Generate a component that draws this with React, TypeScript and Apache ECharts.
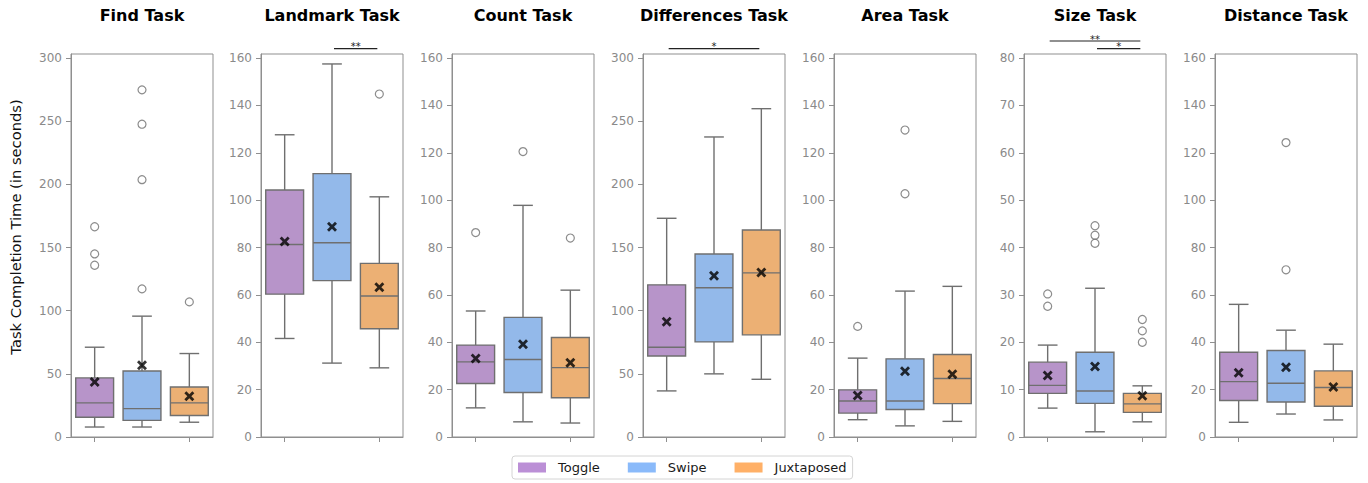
import React, { useEffect, useRef } from 'react';
import * as echarts from 'echarts';

// ---------- data ----------
const tasks = ['Find Task', 'Landmark Task', 'Count Task', 'Differences Task', 'Area Task', 'Size Task', 'Distance Task'];
const conditions = ['Toggle', 'Swipe', 'Juxtaposed'];

// box stats per condition: [lower whisker, Q1, median, Q3, upper whisker]
const findBoxes = [[7.9, 15.6, 27, 46.8, 71.1], [7.9, 13.2, 22.5, 52.3, 95.7], [11.7, 17, 27, 39.6, 66.1]];
const findMeans = [43.6, 56.8, 32.3];
const findOutliers = [[166.5, 145, 136], [117.3, 203.8, 247.7, 274.9], [107]];

const landmarkBoxes = [[41.6, 60.3, 81.3, 104.3, 127.6], [31.2, 66, 82, 111.2, 157.5], [29.2, 45.7, 59.5, 73.3, 101.4]];
const landmarkMeans = [82.5, 88.8, 63.2];
const landmarkOutliers = [[], [], [144.8]];

const countBoxes = [[12.3, 22.6, 31.7, 38.8, 53.2], [6.4, 18.8, 32.7, 50.5, 97.8], [5.9, 16.6, 29.3, 42, 62]];
const countMeans = [33.1, 39.2, 31.3];
const countOutliers = [[86.3], [120.5], [84]];

const differencesBoxes = [[36.5, 64.2, 71.1, 120.5, 173.2], [50, 75.3, 118.2, 144.9, 237.6], [45.7, 80.9, 130, 163.9, 260]];
const differencesMeans = [91.2, 127.7, 130.3];
const differencesOutliers = [[], [], []];

const areaBoxes = [[7.3, 10.1, 15.2, 19.9, 33.3], [4.7, 11.6, 15.2, 33, 61.6], [6.6, 14.1, 24.7, 34.8, 63.6]];
const areaMeans = [17.5, 27.8, 26.5];
const areaOutliers = [[46.7], [129.6, 102.7], []];

const sizeBoxes = [[6.1, 9.2, 10.9, 15.8, 19.4], [1.1, 7.1, 9.7, 17.9, 31.4], [3.2, 5.2, 7.0, 9.2, 10.8]];
const sizeMeans = [13.0, 14.9, 8.7];
const sizeOutliers = [[30.2, 27.6], [40.9, 42.6, 44.6], [24.8, 22.4, 20.0]];

const distanceBoxes = [[6.2, 15.4, 23.4, 35.8, 56], [9.7, 14.8, 22.7, 36.5, 45.1], [7.2, 13, 20.9, 27.9, 39.2]];
const distanceMeans = [27.1, 29.5, 21.1];
const distanceOutliers = [[], [70.6, 124.3], []];

const allBoxes = [findBoxes, landmarkBoxes, countBoxes, differencesBoxes, areaBoxes, sizeBoxes, distanceBoxes];
const allMeans = [findMeans, landmarkMeans, countMeans, differencesMeans, areaMeans, sizeMeans, distanceMeans];
const allOutliers = [findOutliers, landmarkOutliers, countOutliers, differencesOutliers, areaOutliers, sizeOutliers, distanceOutliers];

// y axes
const yMax = [303.3, 161.7, 161.7, 303.3, 161.7, 80.85, 161.7];
const yStep = [50, 20, 20, 50, 20, 10, 20];
const ticks300 = [0, 50, 100, 150, 200, 250, 300];
const ticks160 = [0, 20, 40, 60, 80, 100, 120, 140, 160];
const ticks80 = [0, 10, 20, 30, 40, 50, 60, 70, 80];
const yTicks = [ticks300, ticks160, ticks160, ticks300, ticks160, ticks80, ticks160];

// significance annotations: panel, from condition, to condition, label, stacking level
const sigPanel = [1, 3, 5, 5];
const sigFrom = [1, 0, 0, 1];
const sigTo = [2, 2, 2, 2];
const sigLabel = ['**', '*', '**', '*'];
const sigLevel = [0, 0, 1, 0];

const yLabel = 'Task Completion Time (in seconds)';

// ---------- styles ----------
const FONT = 'DejaVu Sans';
const boxColors = ['#b794c9', '#93b9ea', '#ecb074'];
const legendColors = ['#bb8fd6', '#8abafa', '#ffb067'];
const EDGE = '#6f6f6f';
const AX = '#8f8f8f';
const panelLeft = [71, 261, 452, 643, 834, 1024, 1215];
const PANEL_W = 142;
const TOP = 54;
const PANEL_H = 383;

const xMark = 'path://M0,2 L2,0 L5,3 L8,0 L10,2 L7,5 L10,8 L8,10 L5,7 L2,10 L0,8 L3,5 Z';

export default function App() {
  const ref = useRef<HTMLDivElement>(null);

  useEffect(() => {
    if (!ref.current) return;
    const chart = echarts.init(ref.current, null, { renderer: 'svg' });

    const renderBox = (params: any, api: any) => {
      const ci = api.value(0);
      const pLo = api.coord([ci, api.value(1)]);
      const pQ1 = api.coord([ci, api.value(2)]);
      const pMd = api.coord([ci, api.value(3)]);
      const pQ3 = api.coord([ci, api.value(4)]);
      const pHi = api.coord([ci, api.value(5)]);
      const band = api.size([1, 0])[0];
      const bw = band * 0.8;
      const cw = bw * 0.52;
      const cx = pLo[0];
      const st = { stroke: EDGE, lineWidth: 1.4, fill: null };
      return {
        type: 'group',
        children: [
          { type: 'line', shape: { x1: cx, y1: pHi[1], x2: cx, y2: pQ3[1] }, style: st },
          { type: 'line', shape: { x1: cx, y1: pQ1[1], x2: cx, y2: pLo[1] }, style: st },
          { type: 'line', shape: { x1: cx - cw / 2, y1: pHi[1], x2: cx + cw / 2, y2: pHi[1] }, style: st },
          { type: 'line', shape: { x1: cx - cw / 2, y1: pLo[1], x2: cx + cw / 2, y2: pLo[1] }, style: st },
          {
            type: 'rect',
            shape: { x: cx - bw / 2, y: pQ3[1], width: bw, height: pQ1[1] - pQ3[1] },
            style: { fill: boxColors[ci], stroke: EDGE, lineWidth: 1.4 },
          },
          { type: 'line', shape: { x1: cx - bw / 2, y1: pMd[1], x2: cx + bw / 2, y2: pMd[1] }, style: st },
        ],
      };
    };

    const grids = tasks.map((_, i) => ({
      left: panelLeft[i],
      top: TOP,
      width: PANEL_W,
      height: PANEL_H,
      show: true,
      borderColor: AX,
      borderWidth: 1,
      backgroundColor: 'transparent',
    }));

    const xAxes = tasks.map((_, i) => ({
      type: 'category',
      gridIndex: i,
      data: conditions,
      axisLine: { show: true, lineStyle: { color: AX, width: 1 } },
      axisTick: { show: true, alignWithLabel: true, length: 5, lineStyle: { color: AX } },
      axisLabel: { show: false },
      splitLine: { show: false },
    }));

    const yAxes = tasks.map((_, i) => ({
      type: 'value',
      gridIndex: i,
      min: 0,
      max: yMax[i],
      interval: yStep[i],
      axisLine: { show: true, lineStyle: { color: AX, width: 1 } },
      axisTick: { show: true, length: 5, lineStyle: { color: AX }, customValues: yTicks[i] },
      axisLabel: { color: '#8a8a8a', fontSize: 12, fontFamily: FONT, margin: 9, customValues: yTicks[i] },
      splitLine: { show: false },
    }));

    const series: any[] = [];
    tasks.forEach((_, i) => {
      series.push({
        type: 'custom',
        xAxisIndex: i,
        yAxisIndex: i,
        renderItem: renderBox,
        encode: { x: 0, y: [1, 2, 3, 4, 5] },
        data: allBoxes[i].map((b, ci) => [ci, ...b]),
        z: 2,
      });
      const outl: number[][] = [];
      allOutliers[i].forEach((arr, ci) => arr.forEach((v) => outl.push([ci, v])));
      series.push({
        type: 'scatter',
        xAxisIndex: i,
        yAxisIndex: i,
        symbol: 'circle',
        symbolSize: 8,
        itemStyle: { color: 'rgba(255,255,255,0)', borderColor: EDGE, borderWidth: 1.2 },
        data: outl,
        z: 3,
      });
      series.push({
        type: 'scatter',
        xAxisIndex: i,
        yAxisIndex: i,
        symbol: xMark,
        symbolSize: 10,
        itemStyle: { color: '#000' },
        data: allMeans[i].map((m, ci) => [ci, m]),
        z: 4,
      });
    });
    conditions.forEach((c, ci) => {
      series.push({ type: 'bar', name: c, xAxisIndex: 0, yAxisIndex: 0, data: [], itemStyle: { color: legendColors[ci] } });
    });

    chart.setOption({
      animation: false,
      grid: grids,
      xAxis: xAxes,
      yAxis: yAxes,
      series,
      legend: {
        data: conditions,
        left: 512,
        top: 456,
        icon: 'rect',
        itemWidth: 28,
        itemHeight: 10,
        itemGap: 28,
        padding: [5, 6, 5, 6],
        borderColor: '#d4d4d4',
        borderWidth: 1,
        borderRadius: 3,
        selectedMode: false,
        textStyle: { fontFamily: FONT, fontSize: 13, color: '#1a1a1a', padding: [0, 0, 0, 7] },
      },
    });

    const graphics: any[] = [];
    tasks.forEach((t, i) => {
      graphics.push({
        type: 'text',
        x: panelLeft[i] + PANEL_W / 2,
        y: 15,
        style: { text: t, align: 'center', verticalAlign: 'middle', font: `bold 16px "${FONT}"`, fill: '#000' },
      });
    });
    graphics.push({
      type: 'text',
      x: 15,
      y: 227,
      rotation: Math.PI / 2,
      style: { text: yLabel, align: 'center', verticalAlign: 'middle', font: `14.7px "${FONT}"`, fill: '#111' },
    });
    sigPanel.forEach((p, k) => {
      const a = chart.convertToPixel({ gridIndex: p } as any, [sigFrom[k], 0]) as any;
      const b = chart.convertToPixel({ gridIndex: p } as any, [sigTo[k], 0]) as any;
      const x1 = a[0] + 2;
      const x2 = b[0] - 2;
      const ly = 48.7 - sigLevel[k] * 7.7;
      graphics.push({ type: 'line', shape: { x1, y1: ly, x2, y2: ly }, style: { stroke: '#222', lineWidth: 1.2 } });
      graphics.push({
        type: 'text',
        x: (x1 + x2) / 2,
        y: ly - 2,
        style: { text: sigLabel[k], align: 'center', verticalAlign: 'middle', font: `10px "${FONT}"`, fill: '#222' },
      });
    });
    chart.setOption({ graphic: graphics });

    return () => chart.dispose();
  }, []);

  return (
    <div
      ref={ref}
      style={{ position: 'fixed', left: 0, top: 0, width: 1368, height: 483, background: '#fff' }}
    />
  );
}
